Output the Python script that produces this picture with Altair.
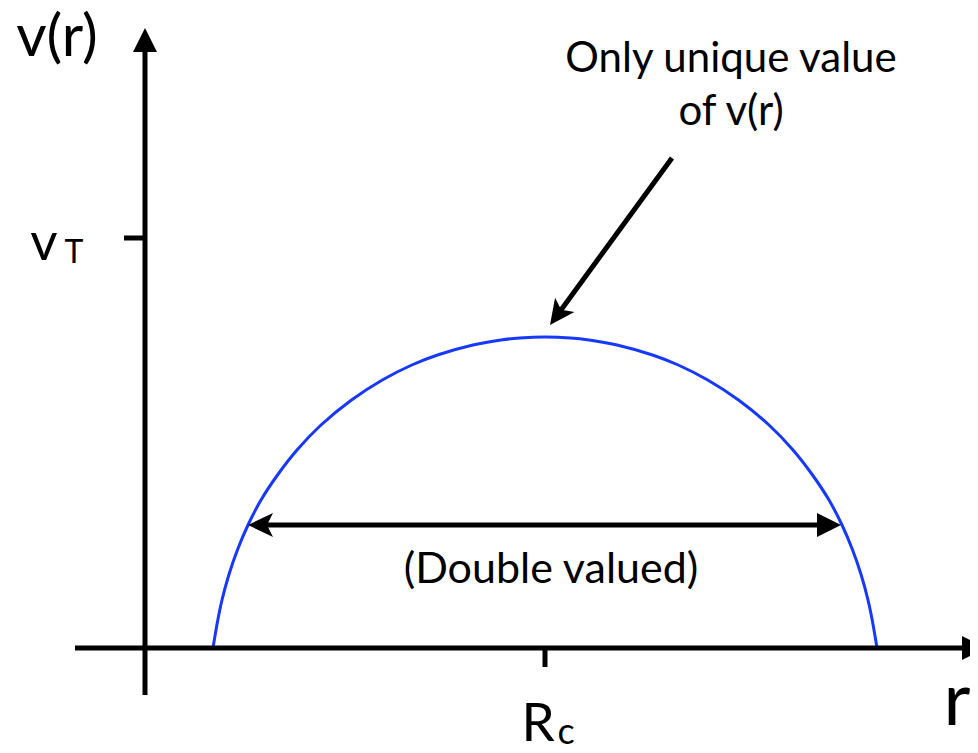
import altair as alt
import pandas as pd
import math

# ---- data (diagram units = reference pixels) ----
curve_x = [213, 217.8, 222, 228.8, 237.4, 248, 261, 277.5, 297, 321, 351.5, 382.3, 411.8, 437.5,
           473, 501, 519.7, 545.5,
           570.3, 589, 617, 652.5, 678.2, 707.7, 738.5, 769, 793, 812.5, 829, 842, 852.6, 861.2,
           868, 872.2, 877]
curve_y = [648, 620, 600, 575, 550, 525, 500, 475, 450, 425, 400, 380, 365, 355,
           345, 340, 338, 337,
           338, 340, 345, 355, 365, 380, 400, 425, 450, 475, 500, 525, 550, 575,
           600, 620, 648]

# axis lines and ticks: (x, y) -> (x2, y2)
seg_x = [145, 75, 124, 545]
seg_y = [695, 648, 238, 648]
seg_x2 = [145, 966, 145, 545]
seg_y2 = [45, 648, 238, 667]

# annotation arrows: start point and tip
dbl_left_tip = (248, 525)
dbl_right_tip = (841, 525)
diag_start = (672, 158)
diag_tip = (550, 325)

# labels
lab_text = ["v(r)", "v", "T", "R", "c", "r", "Only unique value", "of v(r)", "(Double valued)"]
lab_x = [57, 44, 74, 538, 566, 957, 731, 731, 551]
lab_y = [56, 260, 263, 741, 744, 725, 72, 125, 583]
lab_size = [59, 53, 32, 53, 36, 74, 42, 42, 43]

W, H = 962, 737
xs = alt.Scale(domain=[8, 8 + W], nice=False, zero=False)
ys = alt.Scale(domain=[8, 8 + H], reverse=True, nice=False, zero=False)

def X(f="x"):
    return alt.X(f + ":Q", scale=xs, axis=None)

def Y(f="y"):
    return alt.Y(f + ":Q", scale=ys, axis=None)

curve_df = pd.DataFrame({"x": curve_x, "y": curve_y, "i": range(len(curve_x))})
curve = alt.Chart(curve_df).mark_line(color="#1638ff", strokeWidth=3, interpolate="catmull-rom").encode(
    x=X(), y=Y(), order="i:Q")

seg_df = pd.DataFrame({"x": seg_x, "y": seg_y, "x2": seg_x2, "y2": seg_y2})

# arrow shafts end inside the heads
def shaft_end(start, tip, back=14):
    dx, dy = tip[0] - start[0], tip[1] - start[1]
    n = math.hypot(dx, dy)
    return tip[0] - back * dx / n, tip[1] - back * dy / n

le = shaft_end(dbl_right_tip, dbl_left_tip)
re_ = shaft_end(dbl_left_tip, dbl_right_tip)
de = shaft_end(diag_start, diag_tip)
arrow_df = pd.DataFrame({
    "x": [le[0], diag_start[0]],
    "y": [le[1], diag_start[1]],
    "x2": [re_[0], de[0]],
    "y2": [re_[1], de[1]],
})
segs = pd.concat([seg_df, arrow_df], ignore_index=True)
rules = alt.Chart(segs).mark_rule(color="black", strokeWidth=5).encode(
    x=X(), y=Y(), x2="x2:Q", y2="y2:Q")

def angle_of(start, tip):
    dx, dy = tip[0] - start[0], tip[1] - start[1]
    return (math.degrees(math.atan2(dx, -dy)) + 360) % 360

plain_heads = pd.DataFrame({
    "x": [145, 986, dbl_right_tip[0]],
    "y": [28, 648, dbl_right_tip[1]],
    "angle": [0, 90, 90],
})
notched_heads = pd.DataFrame({
    "x": [dbl_left_tip[0], diag_tip[0]],
    "y": [dbl_left_tip[1], diag_tip[1]],
    "angle": [270, angle_of(diag_start, diag_tip)],
})
heads1 = alt.Chart(plain_heads).mark_point(
    shape="M0,0L12,24L-12,24Z", size=4, filled=True, opacity=1, color="black", strokeWidth=0
).encode(x=X(), y=Y(), angle=alt.Angle("angle:Q", scale=None))
heads2 = alt.Chart(notched_heads).mark_point(
    shape="M0,0L12,25L0,19L-12,25Z", size=4, filled=True, opacity=1, color="black", strokeWidth=0
).encode(x=X(), y=Y(), angle=alt.Angle("angle:Q", scale=None))

lab_df = pd.DataFrame({"t": lab_text, "x": lab_x, "y": lab_y, "s": lab_size})
labels = alt.Chart(lab_df).mark_text(
    align="center", baseline="alphabetic", font="Lato", color="black"
).encode(x=X(), y=Y(), text="t:N", size=alt.Size("s:Q", scale=None))

chart = alt.layer(curve, rules, heads1, heads2, labels).properties(
    width=W, height=H, padding=0, background="white",
    autosize=alt.AutoSizeParams(type="none"),
).configure_view(stroke=None)

chart.save("out.html", embed_options={"renderer": "svg", "actions": False})
